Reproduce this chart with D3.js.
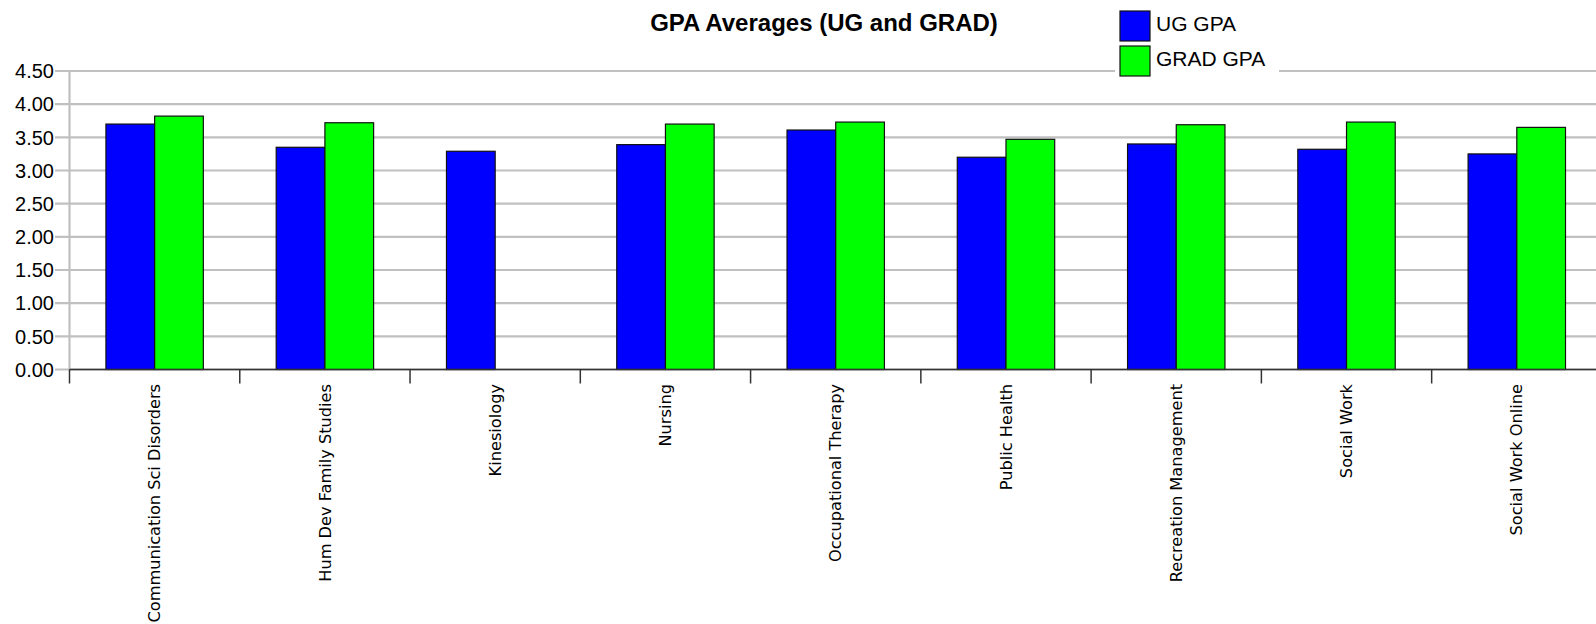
<!DOCTYPE html>
<html><head><meta charset="utf-8">
<script src="https://cdn.jsdelivr.net/npm/d3@7/dist/d3.min.js"></script>
<style>
html,body{margin:0;padding:0;background:#fff;overflow:hidden;}
svg{display:block;}
</style></head>
<body>
<svg id="chart" width="1596" height="624"></svg>
<script>
const categories = ["Communication Sci Disorders","Hum Dev Family Studies","Kinesiology","Nursing","Occupational Therapy","Public Health","Recreation Management","Social Work","Social Work Online"];
const seriesNames = ["UG GPA","GRAD GPA"];
const ugGPA = [3.70, 3.35, 3.29, 3.39, 3.61, 3.20, 3.40, 3.32, 3.25];
const gradGPA = [3.82, 3.72, null, 3.70, 3.73, 3.47, 3.69, 3.73, 3.65];
const yTicks = [0, 0.5, 1, 1.5, 2, 2.5, 3, 3.5, 4, 4.5];
const colors = ["#0000ff", "#00ff00"];
const title = "GPA Averages (UG and GRAD)";

(function(){
const svg = d3.select("#chart");
const plotLeft = 69.5, bandW = 170.27, plotTop = 71, plotBottom = 369.5;
const x = d3.scaleBand().domain(categories).range([plotLeft, plotLeft + bandW * categories.length]).padding(0);
const xs = d3.scaleBand().domain(seriesNames).range([0, x.bandwidth()]).paddingInner(0).paddingOuter(0.748);
const y = d3.scaleLinear().domain([0, 4.5]).range([plotBottom, plotTop]);

// gridlines
svg.append("g").selectAll("line").data(yTicks).join("line")
  .attr("x1", 55).attr("x2", 1596)
  .attr("y1", d => y(d)).attr("y2", d => y(d))
  .attr("stroke", "#c0c0c0").attr("stroke-width", 2.2);
// y axis line (gray)
svg.append("line").attr("x1", plotLeft).attr("x2", plotLeft).attr("y1", y(4.5)).attr("y2", y(0))
  .attr("stroke", "#c0c0c0").attr("stroke-width", 2.2);

// y tick labels
svg.append("g").selectAll("text").data(yTicks).join("text")
  .attr("x", 54).attr("y", d => y(d)).attr("dy", "0.36em")
  .attr("text-anchor", "end")
  .style("font-family", "Arial, 'Liberation Sans', sans-serif").style("font-size", "20px").attr("fill", "#000")
  .text(d => d.toFixed(2));

// bars
const rows = categories.map((c, i) => ({cat: c, vals: [ugGPA[i], gradGPA[i]]}));
const grp = svg.append("g").selectAll("g").data(rows).join("g")
  .attr("transform", d => `translate(${x(d.cat)},0)`);
grp.selectAll("rect").data(d => d.vals.map((v, k) => ({v, k})).filter(e => e.v != null)).join("rect")
  .attr("x", e => xs(seriesNames[e.k]))
  .attr("y", e => y(e.v))
  .attr("width", xs.bandwidth())
  .attr("height", e => y(0) - y(e.v))
  .attr("fill", e => colors[e.k])
  .attr("stroke", "#111").attr("stroke-width", 1.2);

// x axis
const xAxis = d3.axisBottom(x).tickSize(0).tickFormat("");
const gx = svg.append("g").attr("transform", `translate(0,${plotBottom})`).call(xAxis);
gx.select(".domain").attr("stroke", "#333").attr("stroke-width", 1.5).attr("d", `M${plotLeft},0H1596`);
// boundary ticks
const bounds = categories.map(c => x(c));
gx.append("g").selectAll("line").data(bounds).join("line")
  .attr("x1", d => d).attr("x2", d => d).attr("y1", 0).attr("y2", 14)
  .attr("stroke", "#333").attr("stroke-width", 1.5);
// category labels
svg.append("g").selectAll("text").data(categories).join("text")
  .attr("transform", d => `translate(${x(d) + x.bandwidth() / 2},384) rotate(-90)`)
  .attr("dy", "0.35em")
  .attr("text-anchor", "end")
  .style("font-family", "'DejaVu Sans', Verdana, sans-serif").style("font-size", "16.2px").attr("fill", "#000")
  .text(d => d);

// title
svg.append("text").attr("x", 824).attr("y", 31).attr("text-anchor", "middle")
  .style("font-family", "Arial, 'Liberation Sans', sans-serif").style("font-size", "24px").style("font-weight", "bold")
  .text(title);

// legend
const lg = svg.append("g");
lg.append("rect").attr("x", 1115).attr("y", 0).attr("width", 164).attr("height", 80).attr("fill", "#fff");
const li = lg.selectAll("g").data(seriesNames).join("g")
  .attr("transform", (d, i) => `translate(1120,${11 + i * 35})`);
li.append("rect").attr("width", 30).attr("height", 30)
  .attr("fill", (d, i) => colors[i]).attr("stroke", "#111").attr("stroke-width", 1.2);
li.append("text").attr("x", 36).attr("y", 19.5)
  .style("font-family", "Arial, 'Liberation Sans', sans-serif").style("font-size", "21px")
  .text(d => d);
})();
</script>
</body></html>
